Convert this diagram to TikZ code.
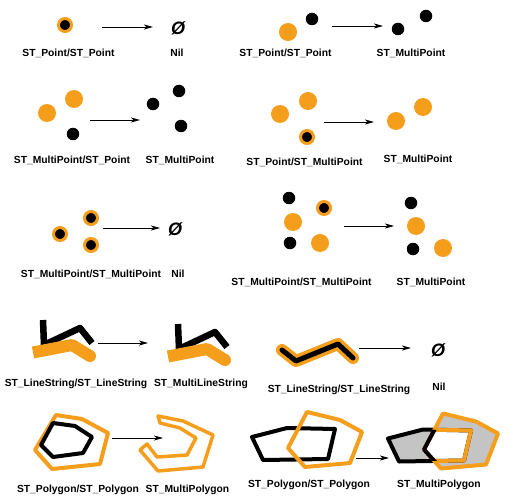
\documentclass[tikz,border=0pt]{standalone}
\usepackage{fontspec}
\setmainfont{Liberation Sans}
\usetikzlibrary{arrows.meta}
\definecolor{orng}{RGB}{244,158,28}
\definecolor{pgray}{RGB}{196,196,196}

\begin{document}
\begin{tikzpicture}[x=1pt,y=1pt,yscale=-1,xscale=1,
  odot/.style={circle,fill=orng,minimum size=18pt,inner sep=0pt},
  bdot/.style={circle,fill=black,minimum size=12.5pt,inner sep=0pt},
  rdot/.style={circle,fill=black,draw=orng,line width=3pt,minimum size=13pt,inner sep=0pt},
  lbl/.style={font=\fontsize{10.3}{12}\selectfont\bfseries,anchor=base,inner sep=0pt},
  nil/.style={font=\fontsize{18}{20}\selectfont\bfseries\itshape,inner sep=0pt},
  arr/.style={line width=0.8pt,-{Stealth[length=9pt,width=5pt,inset=2.5pt]}}]
\useasboundingbox (0,0) rectangle (513,497);

%Point / Point -> Nil
\node[rdot] (r1) at (65,25) {};
\coordinate (a1s) at (102,27); \coordinate (a1e) at (153,27);
\draw[arr] (a1s) -- (a1e);
\node[nil] (n1) at (178,28) {Ø};
% Text Node
\node[lbl] (t1a) at (68.5,56.5) {ST\_Point/ST\_Point};
\node[lbl] (t1b) at (177,57) {Nil};

%Point / Point -> MultiPoint
\node[odot] (o2) at (288,32) {};
\node[bdot] (b2) at (312,19) {};
\coordinate (a2s) at (332,26); \coordinate (a2e) at (383,26);
\draw[arr] (a2s) -- (a2e);
\node[bdot] (c2a) at (398,29) {};
\node[bdot] (c2b) at (426,16) {};
% Text Node
\node[lbl] (t2a) at (285.5,57) {ST\_Point/ST\_Point};
\node[lbl] (t2b) at (411,57) {ST\_MultiPoint};

%MultiPoint / Point -> MultiPoint
\node[odot] (o3a) at (47,113) {};
\node[odot] (o3b) at (74,99) {};
\node[bdot] (b3) at (73,134) {};
\coordinate (a3s) at (90,120); \coordinate (a3e) at (140,120);
\draw[arr] (a3s) -- (a3e);
\node[bdot] (c3a) at (153,104) {};
\node[bdot] (c3b) at (179,91) {};
\node[bdot] (c3c) at (181,126) {};
% Text Node
\node[lbl] (t3a) at (72,163.5) {ST\_MultiPoint/ST\_Point};
\node[lbl] (t3b) at (180,163) {ST\_MultiPoint};

%Point / MultiPoint -> MultiPoint
\node[odot] (o4a) at (280,114) {};
\node[odot] (o4b) at (308,101) {};
\node[rdot] (r4) at (307,137) {};
\coordinate (a4s) at (324,122); \coordinate (a4e) at (374,122);
\draw[arr] (a4s) -- (a4e);
\node[odot] (c4a) at (396,121) {};
\node[odot] (c4b) at (423,107) {};
% Text Node
\node[lbl] (t4a) at (304.5,165) {ST\_Point/ST\_MultiPoint};
\node[lbl] (t4b) at (418,162.5) {ST\_MultiPoint};

%MultiPoint / MultiPoint -> Nil
\node[rdot] (r5a) at (60,234) {};
\node[rdot] (r5b) at (91,218) {};
\node[rdot] (r5c) at (91,245) {};
\coordinate (a5s) at (103,228); \coordinate (a5e) at (160,228);
\draw[arr] (a5s) -- (a5e);
\node[nil] (n5) at (175,229) {Ø};
% Text Node
\node[lbl] (t5a) at (91,277.5) {ST\_MultiPoint/ST\_MultiPoint};
\node[lbl] (t5b) at (178,277) {Nil};

%MultiPoint / MultiPoint -> MultiPoint
\node[bdot] (b6a) at (289,198) {};
\node[odot] (o6a) at (293,222) {};
\node[bdot] (b6b) at (290,243) {};
\node[odot] (o6b) at (320,243) {};
\node[rdot] (r6) at (324,208) {};
\coordinate (a6s) at (344,226); \coordinate (a6e) at (394,226);
\draw[arr] (a6s) -- (a6e);
\node[bdot] (c6a) at (411,203) {};
\node[odot] (c6b) at (416,226) {};
\node[bdot] (c6c) at (413,249) {};
\node[odot] (c6d) at (443,248) {};
% Text Node
\node[lbl] (t6a) at (301.5,285.5) {ST\_MultiPoint/ST\_MultiPoint};
\node[lbl] (t6b) at (431,285.5) {ST\_MultiPoint};

%LineString / LineString -> MultiLineString
\draw[line width=6.5pt,line join=round] (43,320) -- (44,345) -- (80,328) -- (92,343);
\draw[orng,line width=12pt,line join=round] (33,352.5) -- (72,345) -- (90,356);
\fill[orng] (90,356) circle (6);
\coordinate (a7s) at (98,343); \coordinate (a7e) at (148,343);
\draw[arr] (a7s) -- (a7e);
\begin{scope}[shift={(135,4)}]
\draw[line width=6.5pt,line join=round] (43,320) -- (44,345) -- (80,328) -- (92,343);
\draw[orng,line width=12pt,line join=round] (33,352.5) -- (72,345) -- (90,356);
\fill[orng] (90,356) circle (6);
\end{scope}
% Text Node
\node[lbl] (t7a) at (76,386.5) {ST\_LineString/ST\_LineString};
\node[lbl] (t7b) at (201,386.5) {ST\_MultiLineString};

%LineString / LineString -> Nil
\draw[orng,line width=12pt,line join=round,line cap=round] (282,350) -- (296,361) -- (338,344) -- (353,358);
\draw[line width=5pt,line join=round,line cap=round] (282,350) -- (296,361) -- (338,344) -- (353,358);
\coordinate (a8s) at (359,348); \coordinate (a8e) at (411,348);
\draw[arr] (a8s) -- (a8e);
\node[nil] (n8) at (438,350) {Ø};
% Text Node
\node[lbl] (t8a) at (339,392.5) {ST\_LineString/ST\_LineString};
\node[lbl] (t8b) at (439,390.5) {Nil};

%Polygon / Polygon -> MultiPolygon
\draw[orng,line width=4pt,line join=round] (56,415) -- (82,419) -- (108,433) -- (100,464) -- (52,469) -- (35,450) -- cycle;
\draw[line width=4pt,line join=round] (53,423) -- (75,426) -- (92,437) -- (83,453) -- (53,457) -- (41,445) -- cycle;
\coordinate (a9s) at (112,438); \coordinate (a9e) at (163,438);
\draw[arr] (a9s) -- (a9e);
\draw[orng,line width=3.5pt,line join=round] (158,416) -- (183,421) -- (213,435) -- (203,467) -- (158,471) -- (140,450) -- (147,444) -- (157,457) -- (187,455) -- (196,438) -- (180,428) -- (160,423) -- cycle;
% Text Node
\node[lbl] (t9a) at (78,492.5) {ST\_Polygon/ST\_Polygon};
\node[lbl] (t9b) at (187.5,492.5) {ST\_MultiPolygon};

%Polygon / Polygon -> MultiPolygon (overlap)
\draw[line width=4pt,line join=round] (252,437) -- (287,428) -- (335,429) -- (328,459) -- (263,460) -- cycle;
\draw[orng,line width=4pt,line join=round] (307,412) -- (340,420) -- (362,432) -- (350,463) -- (305,467) -- (288,448) -- cycle;
\coordinate (a10s) at (356,458); \coordinate (a10e) at (389,458);
\draw[arr] (a10s) -- (a10e);
\begin{scope}[shift={(136,1.5)}]
\fill[pgray,even odd rule] (252,437) -- (287,428) -- (335,429) -- (328,459) -- (263,460) -- cycle
  (307,412) -- (340,420) -- (362,432) -- (350,463) -- (305,467) -- (288,448) -- cycle;
\draw[line width=4pt,line join=round] (252,437) -- (287,428) -- (335,429) -- (328,459) -- (263,460) -- cycle;
\draw[orng,line width=4pt,line join=round] (307,412) -- (340,420) -- (362,432) -- (350,463) -- (305,467) -- (288,448) -- cycle;
\begin{scope}
\clip (307,412) -- (340,420) -- (362,432) -- (350,463) -- (305,467) -- (288,448) -- cycle;
\draw[orng,line width=4pt,line join=round] (252,437) -- (287,428) -- (335,429) -- (328,459) -- (263,460) -- cycle;
\end{scope}
\begin{scope}
\clip (252,437) -- (287,428) -- (335,429) -- (328,459) -- (263,460) -- cycle;
\draw[line width=4pt,line join=round] (307,412) -- (340,420) -- (362,432) -- (350,463) -- (305,467) -- (288,448) -- cycle;
\end{scope}
\end{scope}
% Text Node
\node[lbl] (t10a) at (309,487) {ST\_Polygon/ST\_Polygon};
\node[lbl] (t10b) at (439,487) {ST\_MultiPolygon};

\end{tikzpicture}
\end{document}
